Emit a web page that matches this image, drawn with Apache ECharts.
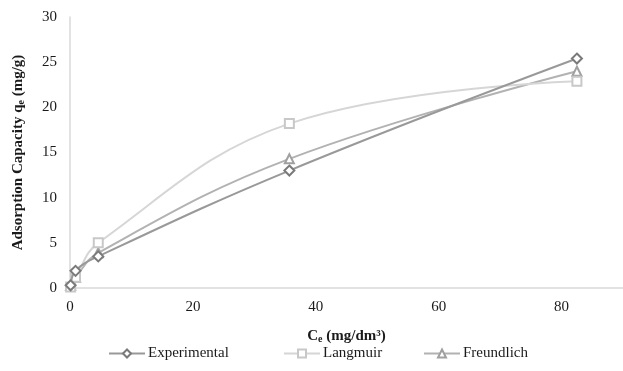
<!DOCTYPE html>
<html>
<head>
<meta charset="utf-8">
<script src="https://cdn.jsdelivr.net/npm/echarts@6/dist/echarts.min.js"></script>
<style>
  html, body { margin: 0; padding: 0; background: #fff; }
  #chart { width: 623px; height: 371px; }
</style>
</head>
<body>
<div id="chart"></div>
<script>
// Equilibrium concentration Ce (mg/dm3)
const ce = [0.1, 0.9, 4.6, 35.7, 82.5];
// Adsorption capacity qe (mg/g)
const experimental = [0.3, 1.9, 3.5, 13.0, 25.4];
const langmuir = [0.1, 1.2, 5.0, 18.2, 22.9];
const freundlich = [0.3, 1.2, 3.9, 14.3, 24.0];

const seriesNames = ['Experimental', 'Langmuir', 'Freundlich'];
const markerColors = ['#7a7a7a', '#c8c8c8', '#a0a0a0'];
const lineColors = ['#999999', '#d6d6d6', '#b2b2b2'];
const seriesSymbols = ['diamond', 'rect', 'triangle'];
const seriesValues = [experimental, langmuir, freundlich];
const legendLefts = [108, 283, 423];

const serif = '"Liberation Serif", "Times New Roman", serif';

const chart = echarts.init(document.getElementById('chart'), null, { renderer: 'canvas' });

const series = seriesNames.map((name, i) => ({
  name: name,
  type: 'line',
  smooth: 0.4,
  data: ce.map((x, j) => [x, seriesValues[i][j]]),
  symbol: seriesSymbols[i],
  symbolSize: seriesSymbols[i] === 'diamond' ? 10 : 9,
  lineStyle: { color: lineColors[i], width: 2 },
  itemStyle: { color: '#ffffff', borderColor: markerColors[i], borderWidth: 2 },
  z: 3 - i
}));

// One legend block per series so each entry sits in its own slot
const legends = seriesNames.map((name, i) => ({
  data: [name],
  top: 346,
  left: legendLefts[i],
  itemWidth: 36,
  itemHeight: 10,
  padding: 0,
  textStyle: { fontFamily: serif, fontSize: 15, color: '#1a1a1a', padding: [0, 0, 0, -2] }
}));

const richName = {
  b: { fontFamily: serif, fontWeight: 'bold', fontSize: 15, color: '#1a1a1a' },
  s: { fontFamily: serif, fontWeight: 'bold', fontSize: 10, color: '#1a1a1a', verticalAlign: 'bottom', padding: [6, 0, 0, 0] }
};

chart.setOption({
  animation: false,
  backgroundColor: '#ffffff',
  textStyle: { fontFamily: serif },
  grid: { left: 70, top: 17, width: 557, bottom: 83, containLabel: false },
  xAxis: {
    type: 'value',
    min: 0, max: 90, interval: 20,
    axisLine: { show: true, lineStyle: { color: '#d9d9d9', width: 1.5 } },
    axisTick: { show: false },
    splitLine: { show: false },
    axisLabel: { color: '#1a1a1a', fontSize: 15, fontFamily: serif, margin: 12, showMaxLabel: false },
    name: '{b|C}{s|e}{b| (mg/dm³)}',
    nameLocation: 'middle',
    nameGap: 40,
    nameTextStyle: { rich: richName }
  },
  yAxis: {
    type: 'value',
    min: 0, max: 30, interval: 5,
    axisLine: { show: true, lineStyle: { color: '#d9d9d9', width: 1.5 } },
    axisTick: { show: false },
    splitLine: { show: false },
    axisLabel: { color: '#1a1a1a', fontSize: 15, fontFamily: serif, margin: 13 },
    name: '{b|Adsorption Capacity q}{s|e}{b| (mg/g)}',
    nameLocation: 'middle',
    nameGap: 44,
    nameTextStyle: { rich: richName }
  },
  legend: legends,
  series: series
});
</script>
</body>
</html>
